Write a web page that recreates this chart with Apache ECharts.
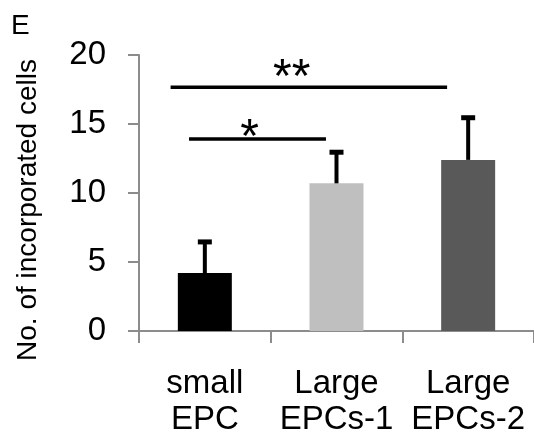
<!DOCTYPE html>
<html>
<head>
<meta charset="utf-8">
<script src="https://cdn.jsdelivr.net/npm/echarts@6/dist/echarts.min.js"></script>
<style>html,body{margin:0;padding:0;background:#fff;}#c{width:534px;height:439px;}</style>
</head>
<body>
<div id="c"></div>
<script>
// ---- data ----
const categories = ['small\nEPC', 'Large\nEPCs-1', 'Large\nEPCs-2'];
const means = [4.2, 10.7, 12.4];
const errors = [2.4, 2.4, 3.2];
const barColors = ['#000000', '#bfbfbf', '#595959'];
const yTicks = [0, 5, 10, 15, 20];
// significance brackets (x in category units, y in axis units)
const sigFrom = [-0.26, -0.12];
const sigTo = [1.84, 0.92];
const sigY = [17.67, 13.92];
const sigLabel = ['**', '*'];
const sigStarX = [0.66, 0.34];
const sigStarY = [18.27, 13.92];

const FONT = "Liberation Sans, Arial, sans-serif";
const chart = echarts.init(document.getElementById('c'), null, {renderer: 'canvas'});
const sigData = sigFrom.map((f, i) => [f, sigTo[i], sigY[i], sigStarX[i], sigStarY[i]]);

chart.setOption({
  animation: false,
  backgroundColor: '#fff',
  grid: {left: 139, right: 0, top: 55, bottom: 108, containLabel: false},
  graphic: [
    {type: 'text', x: 11, y: 40, z: 100,
      style: {text: 'E', fontSize: 28, fontFamily: FONT, fill: '#000', align: 'left', verticalAlign: 'bottom'}},
    {type: 'text', x: 28, y: 210, rotation: Math.PI / 2,
      style: {text: 'No. of incorporated cells', fontSize: 28, fontFamily: FONT, fill: '#000', align: 'center', verticalAlign: 'middle'}}
  ],
  xAxis: [{
    type: 'category', data: categories, boundaryGap: true,
    axisLine: {show: true, onZero: false, lineStyle: {color: '#8c8c8c', width: 2}},
    axisTick: {show: true, length: 12, alignWithLabel: false, lineStyle: {color: '#8c8c8c', width: 2}},
    axisLabel: {color: '#000', fontFamily: FONT, fontSize: 33, lineHeight: 36, margin: 35, interval: 0}
  }, {
    type: 'value', min: -0.5, max: 2.5, show: false,
    axisLine: {show: false, onZero: false}, splitLine: {show: false}
  }],
  yAxis: {
    type: 'value', min: yTicks[0], max: yTicks[yTicks.length - 1], interval: 5,
    axisLine: {show: true, onZero: false, lineStyle: {color: '#8c8c8c', width: 2}},
    axisTick: {show: true, length: 11, inside: false, lineStyle: {color: '#8c8c8c', width: 2}},
    splitLine: {show: false},
    axisLabel: {color: '#000', fontFamily: FONT, fontSize: 33, margin: 33}
  },
  series: [{
    type: 'bar', xAxisIndex: 0, barWidth: '41%',
    data: means.map((v, i) => ({value: v, itemStyle: {color: barColors[i]}})), z: 2
  }, {
    type: 'custom', xAxisIndex: 0,
    data: means.map((m, i) => [i, m, m + errors[i]]),
    encode: {x: 0, y: [1, 2]},
    renderItem: function (params, api) {
      const base = api.coord([api.value(0), api.value(1)]);
      const top = api.coord([api.value(0), api.value(2)]);
      const half = 7;
      return {type: 'group', children: [
        {type: 'line', shape: {x1: base[0], y1: base[1], x2: top[0], y2: top[1] + 2}, style: {stroke: '#000', lineWidth: 4}},
        {type: 'line', shape: {x1: top[0] - half, y1: top[1] + 2, x2: top[0] + half, y2: top[1] + 2}, style: {stroke: '#000', lineWidth: 5}}
      ]};
    }, z: 3
  }, {
    type: 'custom', xAxisIndex: 1, data: sigData, encode: {x: [0, 1], y: 2},
    renderItem: function (params, api) {
      const p1 = api.coord([api.value(0), api.value(2)]);
      const p2 = api.coord([api.value(1), api.value(2)]);
      const s = api.coord([api.value(3), api.value(4)]);
      return {type: 'group', children: [
        {type: 'line', shape: {x1: p1[0], y1: p1[1], x2: p2[0], y2: p2[1]}, style: {stroke: '#000', lineWidth: 3.5}},
        {type: 'text', x: s[0], y: s[1], style: {text: sigLabel[params.dataIndex], fontSize: 48, fontFamily: FONT, fill: '#000', align: 'center', verticalAlign: 'middle'}}
      ]};
    }, z: 4
  }]
});
</script>
</body>
</html>
